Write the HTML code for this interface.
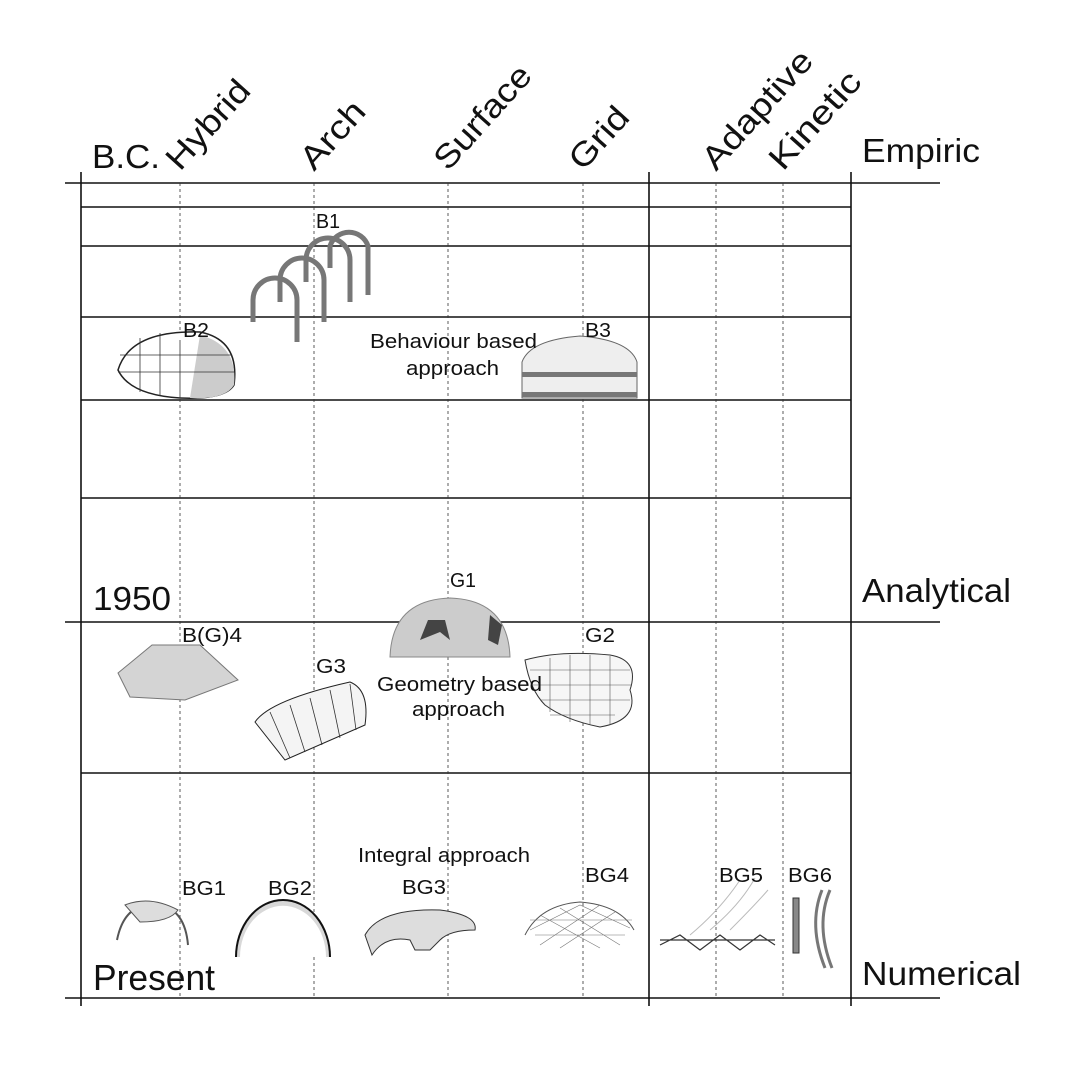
<!DOCTYPE html>
<html><head><meta charset="utf-8"><style>
body{margin:0;background:#fff}
svg{display:block}
text{font-family:"Liberation Sans",sans-serif;fill:#111}
</style></head><body>
<svg width="1080" height="1080" viewBox="0 0 1080 1080">
<g stroke="#111" stroke-width="1.6">
<line x1="65" y1="183" x2="940" y2="183"/>
<line x1="65" y1="622" x2="940" y2="622"/>
<line x1="65" y1="998" x2="940" y2="998"/>
<line x1="81" y1="207" x2="851" y2="207"/>
<line x1="81" y1="246" x2="851" y2="246"/>
<line x1="81" y1="317" x2="851" y2="317"/>
<line x1="81" y1="400" x2="851" y2="400"/>
<line x1="81" y1="498" x2="851" y2="498"/>
<line x1="81" y1="773" x2="851" y2="773"/>
<line x1="81" y1="172" x2="81" y2="1006"/>
<line x1="649" y1="172" x2="649" y2="1006"/>
<line x1="851" y1="172" x2="851" y2="1006"/>
</g>
<g stroke="#333" stroke-width="0.8" stroke-dasharray="3,3">
<line x1="180" y1="183" x2="180" y2="998"/>
<line x1="314" y1="183" x2="314" y2="998"/>
<line x1="448" y1="183" x2="448" y2="998"/>
<line x1="583" y1="183" x2="583" y2="998"/>
<line x1="716" y1="183" x2="716" y2="998"/>
<line x1="783" y1="183" x2="783" y2="998"/>
</g>
<!-- B1 arches -->
<g fill="none" stroke="#777" stroke-width="5">
<path d="M253 322 V300 A22 22 0 0 1 297 300 V342"/>
<path d="M280 302 V280 A22 22 0 0 1 324 280 V322"/>
<path d="M306 282 V260 A22 22 0 0 1 350 260 V302"/>
<path d="M330 268 V246 A20 20 0 0 1 368 246 V295"/>
</g>
<!-- B2 -->
<path d="M118 370 Q130 330 200 332 Q240 340 234 385 Q225 400 180 398 Q130 395 118 370Z" fill="#fff" stroke="#222" stroke-width="1.5"/>
<path d="M200 335 Q238 345 234 385 Q225 400 190 398 Z" fill="#ccc"/>
<g stroke="#333" stroke-width="0.8"><line x1="140" y1="338" x2="140" y2="392"/><line x1="160" y1="333" x2="160" y2="396"/><line x1="180" y1="340" x2="180" y2="398"/><line x1="120" y1="355" x2="232" y2="355"/><line x1="118" y1="372" x2="234" y2="372"/></g>
<!-- B3 yurt -->
<path d="M522 362 Q530 340 580 336 Q630 340 637 362 V398 H522Z" fill="#eee" stroke="#666"/>
<rect x="522" y="372" width="115" height="5" fill="#777"/><rect x="522" y="392" width="115" height="5" fill="#777"/>
<!-- G1 -->
<path d="M390 657 Q392 600 450 598 Q508 600 510 657Z" fill="#ccc" stroke="#888"/>
<path d="M420 640 L428 620 L445 620 L450 640 L440 632Z" fill="#444"/>
<path d="M490 615 L502 625 L498 645 L488 640Z" fill="#444"/>
<!-- B(G)4 -->
<path d="M118 673 L152 645 L200 645 L238 680 L185 700 L130 697Z" fill="#d4d4d4" stroke="#777"/>
<!-- G2 -->
<path d="M525 660 Q560 650 610 655 Q640 660 630 690 Q640 720 600 727 Q565 720 545 705 Q530 690 525 660Z" fill="#f6f6f6" stroke="#333"/>
<g stroke="#555" stroke-width="0.6"><path d="M530 670 H630 M533 685 H632 M540 700 H630 M550 715 H615 M550 658 V712 M570 655 V722 M590 655 V725 M610 656 V725"/></g>
<!-- G3 -->
<path d="M255 722 Q270 700 350 682 Q370 690 365 725 L285 760Z" fill="#f4f4f4" stroke="#222"/>
<g stroke="#333" stroke-width="0.8" fill="none"><path d="M270 712 L290 758 M290 705 L305 752 M310 698 L322 745 M330 690 L340 738 M350 684 L356 730"/></g>
<!-- BG1 -->
<path d="M117 940 Q125 900 160 905 Q185 910 188 945" fill="none" stroke="#555" stroke-width="2"/>
<path d="M125 905 Q150 895 178 910 Q170 922 140 922Z" fill="#ddd" stroke="#555"/>
<!-- BG2 -->
<path d="M236 957 A47 57 0 0 1 330 957" fill="#d8d8d8" stroke="#111" stroke-width="2"/>
<path d="M240 957 A42 50 0 0 1 326 957" fill="#fff"/>
<!-- BG3 -->
<path d="M365 935 Q380 908 440 910 Q478 915 475 930 Q450 930 440 940 L430 950 L415 950 L410 940 Q385 935 372 955Z" fill="#ddd" stroke="#333"/>
<!-- BG4 -->
<path d="M525 935 Q540 905 580 902 Q620 905 634 930" fill="none" stroke="#555"/>
<g stroke="#777" stroke-width="0.6" fill="none"><path d="M530 930 L580 905 L630 928 M540 945 L600 905 M560 948 L615 912 M540 915 L600 948 M560 908 L620 945 M530 920 H632 M535 935 H625"/></g>
<!-- BG5 -->
<g stroke="#333" stroke-width="1.2" fill="none"><path d="M660 945 L680 935 L700 950 L720 935 L740 950 L760 935 L775 945 M660 940 H775"/></g>
<g stroke="#bbb" fill="none"><path d="M690 935 Q720 910 740 880 M710 930 Q740 905 755 878 M730 930 Q755 905 768 890"/></g>
<!-- BG6 -->
<rect x="793" y="898" width="6" height="55" fill="#888" stroke="#333"/>
<path d="M822 890 Q808 925 825 968 M830 890 Q815 925 832 968" stroke="#777" stroke-width="3" fill="none"/>

<text x="92" y="168" font-size="33" textLength="68" lengthAdjust="spacingAndGlyphs">B.C.</text>
<text font-size="33" transform="translate(180,172) rotate(-48)" textLength="108" lengthAdjust="spacingAndGlyphs">Hybrid</text>
<text font-size="33" transform="translate(314,172) rotate(-48)" textLength="80" lengthAdjust="spacingAndGlyphs">Arch</text>
<text font-size="33" transform="translate(448,172) rotate(-48)" textLength="128" lengthAdjust="spacingAndGlyphs">Surface</text>
<text font-size="33" transform="translate(583,172) rotate(-48)" textLength="72" lengthAdjust="spacingAndGlyphs">Grid</text>
<text font-size="33" transform="translate(716,172) rotate(-48)" textLength="148" lengthAdjust="spacingAndGlyphs">Adaptive</text>
<text font-size="33" transform="translate(783,172) rotate(-48)" textLength="120" lengthAdjust="spacingAndGlyphs">Kinetic</text>
<text x="862" y="162" font-size="33" textLength="118" lengthAdjust="spacingAndGlyphs">Empiric</text>
<text x="862" y="602" font-size="33" textLength="149" lengthAdjust="spacingAndGlyphs">Analytical</text>
<text x="862" y="985" font-size="33" textLength="159" lengthAdjust="spacingAndGlyphs">Numerical</text>
<text x="93" y="610" font-size="33" textLength="78" lengthAdjust="spacingAndGlyphs">1950</text>
<text x="93" y="990" font-size="36" textLength="122" lengthAdjust="spacingAndGlyphs">Present</text>
<g font-size="20">
<text x="316" y="228" textLength="24" lengthAdjust="spacingAndGlyphs">B1</text>
<text x="183" y="337" textLength="26" lengthAdjust="spacingAndGlyphs">B2</text>
<text x="585" y="337" textLength="26" lengthAdjust="spacingAndGlyphs">B3</text>
<text x="370" y="348" textLength="167" lengthAdjust="spacingAndGlyphs">Behaviour based</text>
<text x="406" y="375" textLength="93" lengthAdjust="spacingAndGlyphs">approach</text>
<text x="450" y="587" textLength="26" lengthAdjust="spacingAndGlyphs">G1</text>
<text x="182" y="642" textLength="60" lengthAdjust="spacingAndGlyphs">B(G)4</text>
<text x="585" y="642" textLength="30" lengthAdjust="spacingAndGlyphs">G2</text>
<text x="316" y="673" textLength="30" lengthAdjust="spacingAndGlyphs">G3</text>
<text x="377" y="691" textLength="165" lengthAdjust="spacingAndGlyphs">Geometry based</text>
<text x="412" y="716" textLength="93" lengthAdjust="spacingAndGlyphs">approach</text>
<text x="358" y="862" textLength="172" lengthAdjust="spacingAndGlyphs">Integral approach</text>
<text x="182" y="895" textLength="44" lengthAdjust="spacingAndGlyphs">BG1</text>
<text x="268" y="895" textLength="44" lengthAdjust="spacingAndGlyphs">BG2</text>
<text x="402" y="894" textLength="44" lengthAdjust="spacingAndGlyphs">BG3</text>
<text x="585" y="882" textLength="44" lengthAdjust="spacingAndGlyphs">BG4</text>
<text x="719" y="882" textLength="44" lengthAdjust="spacingAndGlyphs">BG5</text>
<text x="788" y="882" textLength="44" lengthAdjust="spacingAndGlyphs">BG6</text>
</g>
</svg>
</body></html>
